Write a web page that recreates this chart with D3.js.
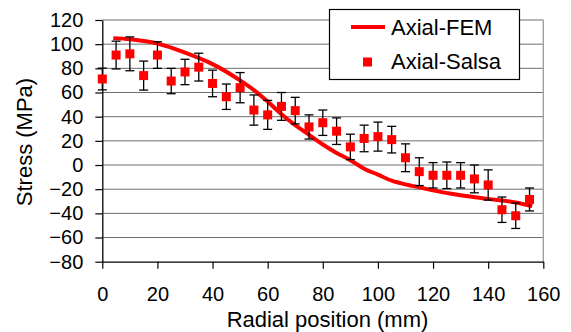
<!DOCTYPE html>
<html lang="en">
<head>
<meta charset="UTF-8"/>
<title>Axial stress vs radial position</title>
<script src="https://d3js.org/d3.v7.min.js"></script>
<style>
  body { margin: 0; background: #fff; }
  svg text { font-family: "Liberation Sans", Arial, sans-serif; fill: #000; }
</style>
</head>
<body>
<script>
// Measured (Salsa) points with error bars
var salsaX = [0,5,10,15,20,25,30,35,40,45,50,55,60,65,70,75,80,85,90,95,100,105,110,115,120,125,130,135,140,145,150,155];
var salsaY = [71.2,91,92,74,91,69.5,77,81,67.5,56.5,64,45.5,41.5,48.5,45,31.5,35,28,15,22,23.5,21,6,-5.5,-8.5,-8.5,-8.5,-11.5,-16.5,-37,-42,-28.5];
var salsaErr = [9,11.5,14,12,11,10.5,10.5,11.5,11,10.5,12.5,12.5,12,11.5,11,10,10.5,11,10.5,11,12,11,11.5,11.5,10.5,11,10.5,11.5,12.5,10.5,10.5,9.5];

// FEM curve
var femX = [4,10,20,30,40,50,55,60,65,70,75,80,85,90,95,100,105,110,115,120,130,140,150,156];
var femY = [105,104,100.5,93,83.5,70,62,52.5,42,33,25,17,10,4,-3,-8,-13,-16,-18.5,-21,-25,-28,-31,-34];

var xTicks = [0,20,40,60,80,100,120,140,160];
var yTicks = [-80,-60,-40,-20,0,20,40,60,80,100,120];

var seriesNames = ["Axial-FEM", "Axial-Salsa"];
var xTitle = "Radial position (mm)";
var yTitle = "Stress (MPa)";

var w = 571, h = 332;
var pLeft = 102.3, pRight = 543.3, pTop = 20, pBottom = 261.7;

var svg = d3.select("body").append("svg")
    .attr("width", w)
    .attr("height", h);

var xScale = d3.scaleLinear().domain([0, 160]).range([pLeft, pRight]);
var yScale = d3.scaleLinear().domain([-80, 120]).range([pBottom, pTop]);

/* gridlines */
svg.append("g")
    .selectAll("line")
    .data(yTicks.filter(d => d > -80))
    .enter()
    .append("line")
    .attr("x1", pLeft).attr("x2", pRight)
    .attr("y1", d => yScale(d)).attr("y2", d => yScale(d))
    .attr("stroke", "#6e6e6e")
    .attr("stroke-width", 1);

/* right border of plot */
svg.append("line")
    .attr("x1", pRight).attr("x2", pRight)
    .attr("y1", pTop).attr("y2", pBottom)
    .attr("stroke", "#9a9a9a")
    .attr("stroke-width", 1.3);

/* X axis */
var xAxis = d3.axisBottom(xScale).tickValues(xTicks).tickSizeInner(7).tickSizeOuter(0).tickPadding(18.5);
var gx = svg.append("g")
    .attr("transform", "translate(0," + pBottom + ")")
    .call(xAxis);
gx.select(".domain").attr("stroke", "#000").attr("stroke-width", 1.3);
gx.selectAll(".tick line").attr("stroke", "#000").attr("stroke-width", 1.2);
gx.selectAll(".tick text").style("font-size", "20px").attr("fill", "#000");

/* Y axis */
var yAxis = d3.axisLeft(yScale).tickValues(yTicks).tickSizeInner(7).tickSizeOuter(0).tickPadding(12);
var gy = svg.append("g")
    .attr("transform", "translate(" + pLeft + ",0)")
    .call(yAxis);
gy.select(".domain").attr("stroke", "#000").attr("stroke-width", 1.3);
gy.selectAll(".tick line").attr("stroke", "#000").attr("stroke-width", 1.2);
gy.selectAll(".tick text").style("font-size", "20px").attr("fill", "#000");

/* axis titles */
svg.append("text")
    .attr("x", 327.5)
    .attr("y", 326.5)
    .attr("text-anchor", "middle")
    .style("font-size", "22px")
    .text(xTitle);

svg.append("text")
    .attr("transform", "translate(32,142) rotate(-90)")
    .attr("text-anchor", "middle")
    .style("font-size", "22px")
    .text(yTitle);

/* FEM line */
var fem = femX.map((x, i) => [x, femY[i]]);
svg.append("path")
    .datum(fem)
    .attr("fill", "none")
    .attr("stroke", "#ff0000")
    .attr("stroke-width", 4)
    .attr("d", d3.line()
        .x(d => xScale(d[0]))
        .y(d => yScale(d[1]))
        .curve(d3.curveMonotoneX));

/* error bars */
var salsa = salsaX.map((x, i) => ({x: x, y: salsaY[i], e: salsaErr[i]}));
var cap = 4.5;
var eb = svg.append("g").attr("stroke", "#000").attr("stroke-width", 1.3);
eb.selectAll("line.v")
    .data(salsa).enter().append("line")
    .attr("x1", d => xScale(d.x)).attr("x2", d => xScale(d.x))
    .attr("y1", d => yScale(d.y + d.e)).attr("y2", d => yScale(d.y - d.e));
eb.selectAll("line.t")
    .data(salsa).enter().append("line")
    .attr("x1", d => xScale(d.x) - cap).attr("x2", d => xScale(d.x) + cap)
    .attr("y1", d => yScale(d.y + d.e)).attr("y2", d => yScale(d.y + d.e));
eb.selectAll("line.b")
    .data(salsa).enter().append("line")
    .attr("x1", d => xScale(d.x) - cap).attr("x2", d => xScale(d.x) + cap)
    .attr("y1", d => yScale(d.y - d.e)).attr("y2", d => yScale(d.y - d.e));

/* markers */
var ms = 9;
svg.append("g")
    .selectAll("rect")
    .data(salsa).enter().append("rect")
    .attr("x", d => xScale(d.x) - ms / 2)
    .attr("y", d => yScale(d.y) - ms / 2)
    .attr("width", ms).attr("height", ms)
    .attr("fill", "#ff0000");

/* legend */
var lg = svg.append("g");
lg.append("rect")
    .attr("x", 329.5).attr("y", 9.5)
    .attr("width", 190).attr("height", 70)
    .attr("fill", "#fff")
    .attr("stroke", "#000")
    .attr("stroke-width", 1.2);
lg.append("line")
    .attr("x1", 351).attr("x2", 385)
    .attr("y1", 27).attr("y2", 27)
    .attr("stroke", "#ff0000").attr("stroke-width", 4);
lg.append("text")
    .attr("x", 391).attr("y", 35)
    .style("font-size", "22px")
    .text(seriesNames[0]);
lg.append("rect")
    .attr("x", 367.5 - ms / 2).attr("y", 62 - ms / 2)
    .attr("width", ms).attr("height", ms)
    .attr("fill", "#ff0000");
lg.append("text")
    .attr("x", 391).attr("y", 68.5)
    .style("font-size", "22px")
    .text(seriesNames[1]);
</script>
</body>
</html>
